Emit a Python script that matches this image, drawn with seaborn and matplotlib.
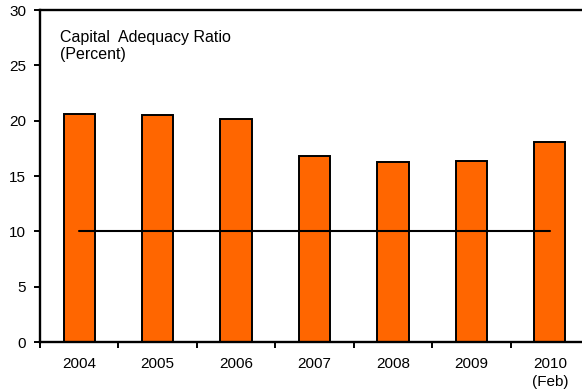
import matplotlib
matplotlib.use("Agg")
import matplotlib.pyplot as plt
import seaborn as sns
import pandas as pd
import numpy as np

years = ["2004", "2005", "2006", "2007", "2008", "2009", "2010\n(Feb)"]
car_values = [20.6, 20.5, 20.15, 16.8, 16.25, 16.4, 18.05]
minimum_ratio = 10
y_ticks = [0, 5, 10, 15, 20, 25, 30]

sns.set_theme(style="white")
plt.rcParams["font.family"] = ["Liberation Sans", "DejaVu Sans"]

df = pd.DataFrame({"year": years, "ratio": car_values})

W, H = 582, 391
fig = plt.figure(figsize=(W / 100, H / 100), dpi=100)
ax = fig.add_axes([40 / W, 49 / H, 549 / W, 332 / H])

sns.barplot(data=df, x="year", y="ratio", color="#FF6600", saturation=1,
            width=0.4, edgecolor="black", linewidth=1.4, ax=ax)

# regulatory minimum line across the bar centres
ax.plot([0, len(years) - 1], [minimum_ratio, minimum_ratio],
        color="black", linewidth=1.5, zorder=3)

ax.set_xlim(-0.5, len(years) - 0.5)
ax.set_ylim(0, 30)
ax.set_yticks(y_ticks)
ax.set_xlabel("")
ax.set_ylabel("")

# tick marks on category boundaries, labels at the centres
ax.set_xticks(np.arange(-0.5, len(years) - 0.4, 1.0), minor=True)
ax.tick_params(axis="x", which="major", length=0, pad=11,
               labelsize=11, colors="black")
ax.tick_params(axis="x", which="minor", bottom=True, length=4,
               width=1.4, color="black", direction="out")
ax.tick_params(axis="y", left=True, length=4, width=1.4, color="black",
               direction="out", pad=6, labelsize=11, labelcolor="black")
for lbl in ax.get_xticklabels():
    lbl.set_multialignment("center")
    lbl.set_linespacing(1.3)

for side in ["left", "bottom", "top"]:
    ax.spines[side].set_visible(True)
    ax.spines[side].set_color("black")
    ax.spines[side].set_linewidth(1.7)
ax.spines["right"].set_visible(False)

fig.text(60 / W, 1 - 30 / H, "Capital  Adequacy Ratio\n(Percent)",
         ha="left", va="top", fontsize=11.5, color="black", linespacing=1.15)

fig.savefig("out.png", dpi=100, facecolor="white")
